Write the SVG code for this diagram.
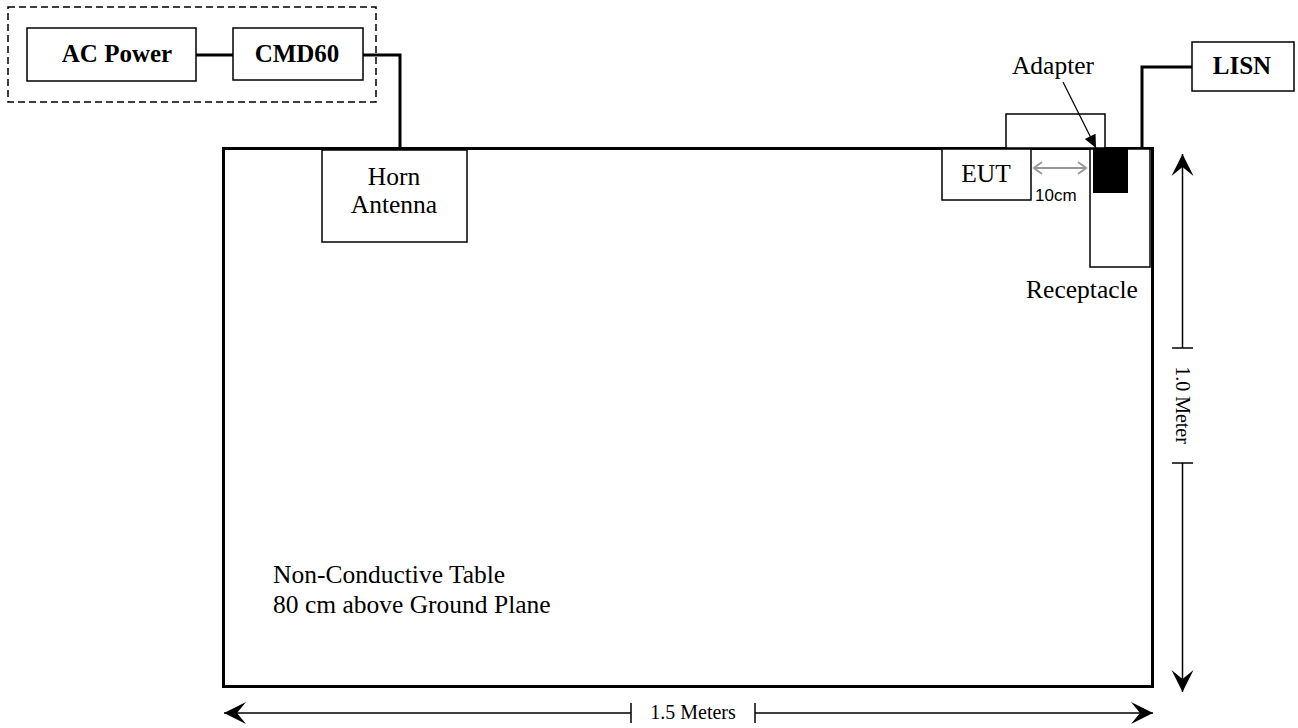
<svg xmlns="http://www.w3.org/2000/svg" width="1298" height="728" viewBox="0 0 1298 728">
<style>
  .box{fill:#fff;stroke:#000;stroke-width:1.5}
  .wire{fill:none;stroke:#000;stroke-width:3}
  .dim{fill:none;stroke:#000;stroke-width:1.5}
  .t{font-family:"Liberation Serif","Times New Roman",serif;font-size:25.5px;fill:#000}
  .b{font-family:"Liberation Serif","Times New Roman",serif;font-size:25px;font-weight:bold;fill:#000}
  .d{font-family:"Liberation Serif","Times New Roman",serif;font-size:20px;fill:#000}
  .s{font-family:"Liberation Sans",Arial,sans-serif;font-size:17px;fill:#000}
</style>
<defs>
  <marker id="big" markerUnits="userSpaceOnUse" viewBox="-24 -12 26 24" refX="0" refY="0" markerWidth="26" markerHeight="24" orient="auto">
    <path d="M0,0 L-22,-11 L-13,0 L-22,11 Z" fill="#000"/>
  </marker>
  <marker id="gray" markerUnits="userSpaceOnUse" viewBox="-10 -8 12 16" refX="0" refY="0" markerWidth="12" markerHeight="16" orient="auto-start-reverse">
    <path d="M-8,-6 L0,0 L-8,6" fill="none" stroke="#999" stroke-width="2"/>
  </marker>
  <marker id="ptr" markerUnits="userSpaceOnUse" viewBox="-14 -7 15 14" refX="0" refY="0" markerWidth="15" markerHeight="14" orient="auto">
    <path d="M0,0 L-13,-6 L-13,6 Z" fill="#000"/>
  </marker>
</defs>

<g id="enclosure">
  <rect x="8" y="7" width="368" height="95" fill="none" stroke="#000" stroke-width="1.5" stroke-dasharray="7,4"/>
</g>

<g id="table">
  <rect x="223.5" y="148.5" width="929" height="538" fill="#fff" stroke="#000" stroke-width="3"/>
  <text class="t" x="273" y="583">Non-Conductive Table</text>
  <text class="t" x="273" y="613">80 cm above Ground Plane</text>
</g>

<g id="connectors">
  <line class="wire" x1="196" y1="55" x2="233" y2="55"/>
  <polyline class="wire" points="363,55 400,55 400,148"/>
  <polyline class="wire" points="1192,67 1142,67 1142,148"/>
</g>

<g id="ac-power">
  <rect class="box" x="27" y="28" width="169" height="53"/>
  <text class="b" x="117" y="62" text-anchor="middle">AC Power</text>
</g>

<g id="cmd60">
  <rect class="box" x="233" y="28" width="130" height="52"/>
  <text class="b" x="297" y="62" text-anchor="middle">CMD60</text>
</g>

<g id="lisn">
  <rect class="box" x="1192" y="42" width="102" height="49"/>
  <text class="b" x="1242" y="74" text-anchor="middle">LISN</text>
</g>

<g id="horn-antenna">
  <rect class="box" x="322" y="150" width="145" height="92"/>
  <text class="t" x="394" y="185" text-anchor="middle">Horn</text>
  <text class="t" x="394" y="213" text-anchor="middle">Antenna</text>
</g>

<g id="eut">
  <rect class="box" x="1006" y="114" width="99" height="34"/>
  <rect class="box" x="942" y="149" width="89" height="51"/>
  <text class="t" x="986" y="182" text-anchor="middle">EUT</text>
  <line x1="1034" y1="168" x2="1086" y2="168" stroke="#999" stroke-width="2" marker-start="url(#gray)" marker-end="url(#gray)"/>
  <text class="s" x="1035" y="201">10cm</text>
</g>

<g id="receptacle">
  <rect class="box" x="1090" y="149" width="60" height="118"/>
  <rect x="1093" y="148" width="35" height="45" fill="#000"/>
  <text class="t" x="1082" y="298" text-anchor="middle">Receptacle</text>
</g>

<g id="adapter">
  <text class="t" x="1053" y="74" text-anchor="middle">Adapter</text>
  <line x1="1063" y1="82" x2="1096" y2="148" stroke="#000" stroke-width="1.2" marker-end="url(#ptr)"/>
</g>

<g id="dimensions">
  <line class="dim" x1="631" y1="713" x2="224" y2="713" marker-end="url(#big)"/>
  <line class="dim" x1="755" y1="713" x2="1153" y2="713" marker-end="url(#big)"/>
  <line class="dim" x1="631" y1="703" x2="631" y2="723"/>
  <line class="dim" x1="755" y1="703" x2="755" y2="723"/>
  <text class="d" x="693" y="719" text-anchor="middle">1.5 Meters</text>
  <line class="dim" x1="1182.5" y1="348" x2="1182.5" y2="154" marker-end="url(#big)"/>
  <line class="dim" x1="1182.5" y1="463" x2="1182.5" y2="692" marker-end="url(#big)"/>
  <line class="dim" x1="1172" y1="348" x2="1193" y2="348"/>
  <line class="dim" x1="1172" y1="463" x2="1193" y2="463"/>
  <text class="d" transform="translate(1176,405) rotate(90)" text-anchor="middle">1.0 Meter</text>
</g>
</svg>
